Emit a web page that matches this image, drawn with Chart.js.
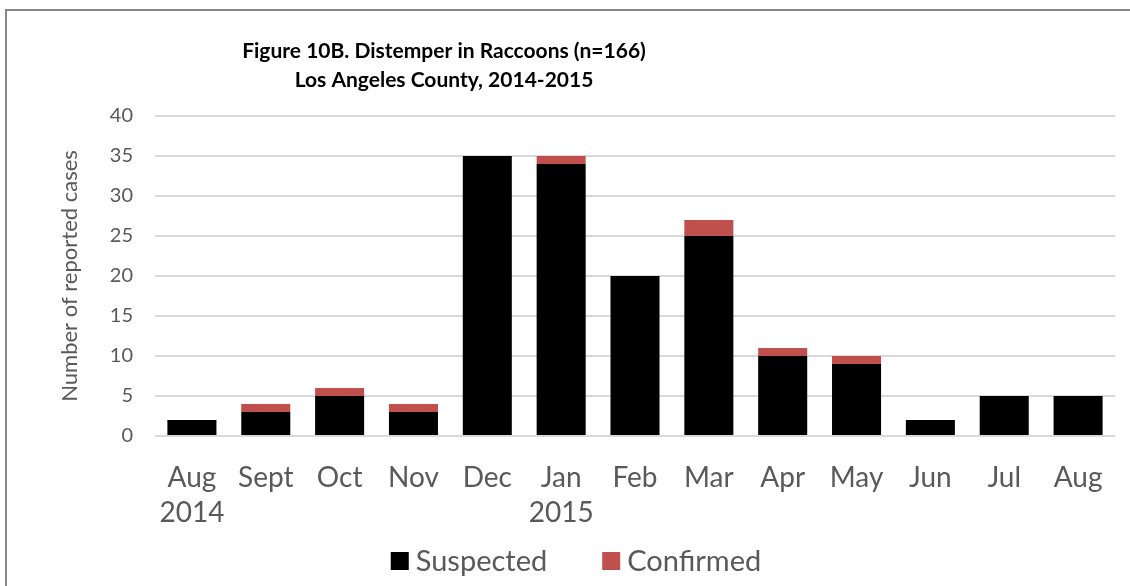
<!DOCTYPE html>
<html lang="en">
<head>
  <meta charset="UTF-8" />
  <title>Distemper in Raccoons</title>
  <script src="https://cdn.jsdelivr.net/npm/chart.js"></script>
  <style>
    html, body { margin: 0; padding: 0; background: #fff; }
  </style>
</head>
<body>
  <canvas id="graphique" width="1130" height="586"></canvas>

  <script>
    // month labels (second line = year)
    const months = [
      ['Aug', '2014'], 'Sept', 'Oct', 'Nov', 'Dec', ['Jan', '2015'],
      'Feb', 'Mar', 'Apr', 'May', 'Jun', 'Jul', 'Aug'
    ];
    const suspected = [2, 3, 5, 3, 35, 34, 20, 25, 10, 9, 2, 5, 5];
    const confirmed = [0, 1, 1, 1, 0, 1, 0, 2, 1, 1, 0, 0, 0];
    const titleLines = [
      'Figure 10B. Distemper in Raccoons (n=166)',
      'Los Angeles County, 2014-2015'
    ];

    const grey = '#595959';

    // frame, title and legend drawn by hand (Excel-like spacing)
    const decor = {
      id: 'decor',
      afterDraw(chart) {
        const c = chart.ctx;
        c.save();
        c.strokeStyle = '#878787';
        c.lineWidth = 2;
        c.beginPath();
        c.moveTo(6, 586);
        c.lineTo(6, 10);
        c.lineTo(1130, 10);
        c.stroke();

        c.fillStyle = '#000';
        c.font = 'bold 21px Lato';
        c.textAlign = 'center';
        c.textBaseline = 'alphabetic';
        c.fillText(titleLines[0], 444, 58);
        c.fillText(titleLines[1], 444, 87);

        // legend
        c.font = '29px Lato';
        c.textAlign = 'left';
        c.textBaseline = 'middle';
        const box = 18, gap = 7, between = 55, cy = 561;
        const items = chart.data.datasets.map(ds => ({
          text: ds.label, color: ds.backgroundColor,
          w: box + gap + c.measureText(ds.label).width
        }));
        const total = items.reduce((s, it) => s + it.w, 0) + between * (items.length - 1);
        let x = 576 - total / 2;
        items.forEach(it => {
          c.fillStyle = it.color;
          c.fillRect(x, cy - box / 2, box, box);
          c.fillStyle = grey;
          c.fillText(it.text, x + box + gap, cy + 1);
          x += it.w + between;
        });
        c.restore();
      }
    };

    const ctx = document.getElementById('graphique').getContext('2d');

    new Chart(ctx, {
      type: 'bar',
      data: {
        labels: months,
        datasets: [
          {
            label: 'Suspected',
            data: suspected,
            backgroundColor: '#000000',
            barPercentage: 0.664,
            categoryPercentage: 1
          },
          {
            label: 'Confirmed',
            data: confirmed,
            backgroundColor: '#C0504D',
            barPercentage: 0.664,
            categoryPercentage: 1
          }
        ]
      },
      options: {
        responsive: false,
        animation: false,
        layout: { padding: { left: 57, right: 15, top: 116, bottom: 56 } },
        plugins: {
          title: { display: false },
          tooltip: { enabled: false },
          legend: { display: false }
        },
        scales: {
          x: {
            stacked: true,
            grid: { display: false },
            border: { display: false },
            ticks: {
              color: grey,
              font: { family: 'Lato', size: 28, lineHeight: 1.25 },
              maxRotation: 0,
              padding: 16
            },
            afterFit(scale) { scale.height = 94; }
          },
          y: {
            stacked: true,
            min: 0,
            max: 40,
            ticks: {
              stepSize: 5,
              color: grey,
              font: { family: 'Lato', size: 20 },
              padding: 22
            },
            grid: { color: '#d9d9d9', lineWidth: 2, drawTicks: false },
            border: { display: false },
            title: {
              display: true,
              text: 'Number of reported cases',
              color: grey,
              font: { family: 'Lato', size: 22 },
              padding: 0
            },
            afterFit(scale) { scale.width = 98; }
          }
        }
      },
      plugins: [decor]
    });
  </script>
</body>
</html>
